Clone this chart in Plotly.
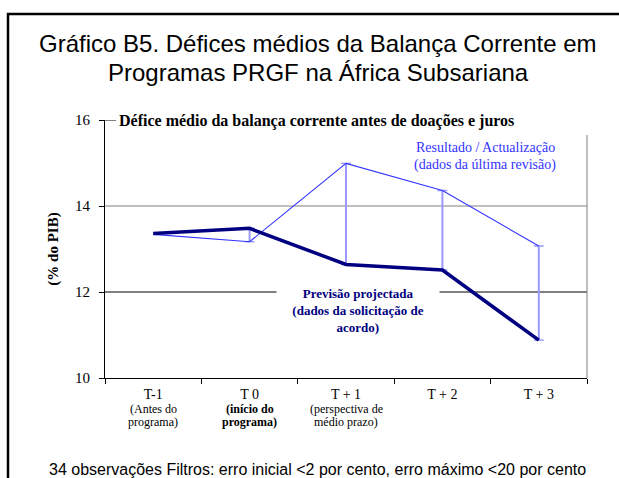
import plotly.graph_objects as go

# ---------------- data ----------------
categories = ["T-1", "T 0", "T + 1", "T + 2", "T + 3"]
sub_line1 = ["(Antes do", "<b>(início do</b>", "(perspectiva de", "", ""]
sub_line2 = ["programa)", "<b>programa)</b>", "médio prazo)", "", ""]
projected = [13.36, 13.48, 12.64, 12.51, 10.88]   # Previsão projectada
outturn = [13.34, 13.17, 14.99, 14.36, 13.07]     # Resultado / Actualização
y_ticks = [10, 12, 14, 16]

# ---------------- layout geometry ----------------
W, H = 619, 478
L, R, T, B = 105, 587, 120, 378


def px2x(px):
    return (px - L) / (R - L)


def py2y(py):
    return (B - py) / (B - T)


SERIF = "Liberation Serif"
SANS = "Liberation Sans"
NAVY = "#000080"
BLUE = "#3333FF"
LIGHT = "#9999FF"

fig = go.Figure()

# high-low lines (between projection and outturn), from T 0 onwards
hl_x, hl_y = [], []
for c, p, o in zip(categories[1:], projected[1:], outturn[1:]):
    hl_x += [c, c, None]
    hl_y += [p, o, None]
fig.add_trace(go.Scatter(x=hl_x, y=hl_y, mode="lines+markers",
                         line=dict(color=LIGHT, width=2),
                         marker=dict(symbol="line-ew-open", size=7,
                                     line=dict(color=LIGHT, width=1.5)),
                         hoverinfo="skip", showlegend=False))

fig.add_trace(go.Scatter(x=categories, y=outturn, mode="lines",
                         line=dict(color=BLUE, width=1.1),
                         name="Resultado / Actualização", showlegend=False))
fig.add_trace(go.Scatter(x=categories, y=projected, mode="lines",
                         line=dict(color=NAVY, width=3.5),
                         name="Previsão projectada", showlegend=False))

shapes = [
    # gridlines
    dict(type="line", xref="paper", yref="y", x0=0, x1=1, y0=14, y1=14,
         line=dict(color="#808080", width=1), layer="below"),
    dict(type="line", xref="paper", yref="y", x0=0, x1=1, y0=12, y1=12,
         line=dict(color="black", width=1), layer="below"),
    dict(type="line", xref="paper", yref="y", x0=0, x1=px2x(116), y0=16, y1=16,
         line=dict(color="black", width=1), layer="below"),
    # right border of plot area
    dict(type="line", xref="paper", yref="paper", x0=1, x1=1, y0=0, y1=py2y(135),
         line=dict(color="#808080", width=1), layer="below"),
    # outer frame
    dict(type="rect", xref="paper", yref="paper",
         x0=px2x(8), x1=px2x(624), y0=py2y(495), y1=py2y(14),
         line=dict(color="black", width=2.5)),
]

annotations = [
    dict(text="Gráfico B5. Défices médios da Balança Corrente em",
         xref="paper", yref="paper", x=px2x(318), y=py2y(44),
         xanchor="center", yanchor="middle", showarrow=False,
         font=dict(family=SANS, size=24, color="black")),
    dict(text="Programas PRGF na África Subsariana",
         xref="paper", yref="paper", x=px2x(318), y=py2y(73),
         xanchor="center", yanchor="middle", showarrow=False,
         font=dict(family=SANS, size=24, color="black")),
    dict(text="<b>Défice médio da balança corrente antes de doações e juros</b>",
         xref="paper", yref="paper", x=px2x(117), y=py2y(121),
         xanchor="left", yanchor="middle", showarrow=False,
         font=dict(family=SERIF, size=16, color="black")),
    dict(text="Resultado / Actualização",
         xref="paper", yref="paper", x=px2x(485), y=py2y(147),
         xanchor="center", yanchor="middle", showarrow=False,
         font=dict(family=SERIF, size=14, color=BLUE)),
    dict(text="(dados da última revisão)",
         xref="paper", yref="paper", x=px2x(485), y=py2y(165),
         xanchor="center", yanchor="middle", showarrow=False,
         font=dict(family=SERIF, size=14, color=BLUE)),
    dict(text="<b>Previsão projectada<br>(dados da solicitação de<br>acordo)</b>",
         xref="paper", yref="paper", x=px2x(358), y=py2y(310),
         xanchor="center", yanchor="middle", showarrow=False,
         bgcolor="white", width=160,
         font=dict(family=SERIF, size=13, color=NAVY)),
    dict(text="34 observações Filtros: erro inicial <2 por cento, erro máximo <20 por cento",
         xref="paper", yref="paper", x=px2x(47), y=py2y(469),
         xanchor="left", yanchor="middle", showarrow=False,
         font=dict(family=SANS, size=16, color="black")),
]
for c, s1, s2 in zip(categories, sub_line1, sub_line2):
    if s1:
        annotations.append(dict(text=s1, xref="x", yref="paper",
                                x=c, y=py2y(409), xanchor="center", yanchor="middle",
                                showarrow=False,
                                font=dict(family=SERIF, size=12, color="black")))
        annotations.append(dict(text=s2, xref="x", yref="paper",
                                x=c, y=py2y(422), xanchor="center", yanchor="middle",
                                showarrow=False,
                                font=dict(family=SERIF, size=12, color="black")))

fig.update_layout(
    width=W, height=H,
    margin=dict(l=L, r=W - R, t=T, b=H - B),
    paper_bgcolor="white", plot_bgcolor="white",
    shapes=shapes, annotations=annotations,
    showlegend=False,
    xaxis=dict(type="category", categoryorder="array", categoryarray=categories,
               range=[-0.5, len(categories) - 0.5],
               tickson="boundaries", ticks="outside", ticklen=5,
               tickcolor="black", showline=True, linecolor="black", linewidth=1,
               showgrid=False, zeroline=False,
               tickfont=dict(family=SERIF, size=14, color="black"),
               ticklabelstandoff=3),
    yaxis=dict(range=[10, 16], tickvals=y_ticks, ticktext=[str(v) for v in y_ticks],
               ticks="outside", ticklen=5, tickcolor="black",
               showline=True, linecolor="black", linewidth=1,
               showgrid=False, zeroline=False,
               tickfont=dict(family=SERIF, size=15, color="black"),
               ticklabelstandoff=6,
               title=dict(text="<b>(% do PIB)</b>", standoff=12,
                          font=dict(family=SERIF, size=15, color="black"))),
)

fig.write_html("out.html",
               config={"displayModeBar": False},
               post_script="document.body.style.margin='0px';"
                           "document.body.style.overflow='hidden';")
